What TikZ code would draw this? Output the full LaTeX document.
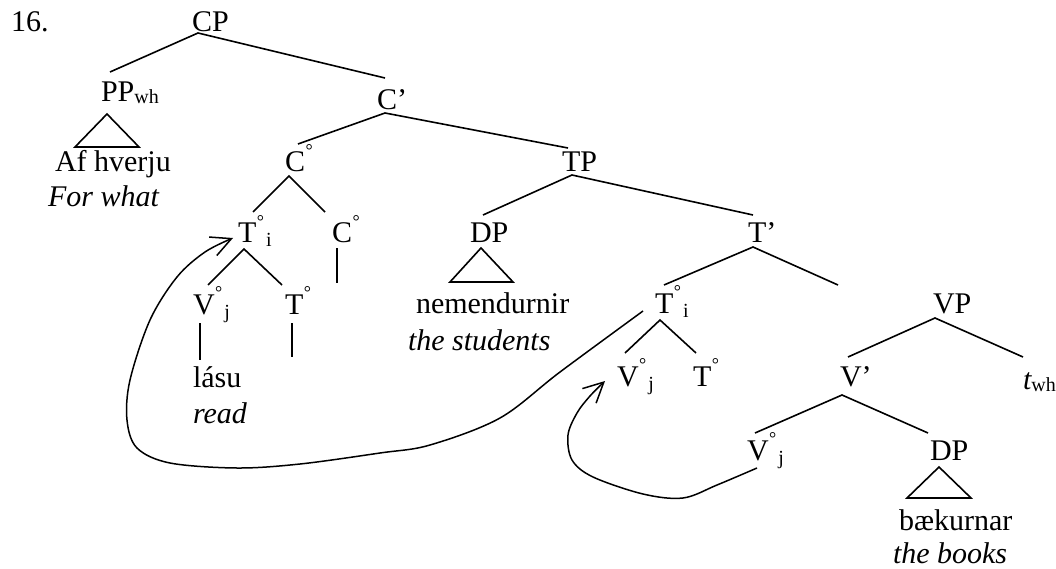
\documentclass[tikz,border=0pt]{standalone}
\usepackage{fontspec}
\setmainfont{Liberation Serif}
\usetikzlibrary{arrows.meta}
\newcommand{\degsym}{\kern0.5pt\raisebox{15.5pt}{\fontsize{18}{18}\selectfont °}}
\newcommand{\subx}[1]{\kern2pt\raisebox{-4pt}{\fontsize{20}{20}\selectfont #1}}
\newcommand{\subw}[1]{\raisebox{-2pt}{\fontsize{20}{20}\selectfont #1}}
\begin{document}
\begin{tikzpicture}[x=1pt,y=-1pt,
  lab/.style={anchor=base west,inner sep=0pt,outer sep=0pt,font=\fontsize{30}{36}\selectfont},
  br/.style={line width=1.6pt},
  mv/.style={line width=1.5pt,-{Straight Barb[length=20pt,width=20pt,line width=1.5pt]}}]
\useasboundingbox (0,0) rectangle (1056,569);
% labels
\node[lab] (n16) at (11,32) {16.};
\node[lab] (CP) at (192,32) {CP};
\node[lab] (PP) at (101,102) {PP\subw{wh}};
\node[lab] (PPw) at (55,172) {Af hverju};
\node[lab] (PPg) at (48,207) {\itshape For what};
\node[lab] (Cb) at (377,110) {C’};
\node[lab] (C0) at (285,172) {C\degsym};
\node[lab] (Ti) at (238,243) {T\degsym\subx{i}};
\node[lab] (C1) at (332,243) {C\degsym};
\node[lab] (Vj) at (193,314) {V\degsym\subx{j}};
\node[lab] (T0) at (285,314) {T\degsym};
\node[lab] (lasu) at (193,387) {lásu};
\node[lab] (read) at (193,423) {\itshape read};
\node[lab] (TP) at (562,172) {TP};
\node[lab] (DP) at (470,243) {DP};
\node[lab] (nem) at (416,313) {nemendurnir};
\node[lab] (stu) at (408,350) {\itshape the students};
\node[lab] (Tb) at (748,243) {T’};
\node[lab] (Ti2) at (655,313) {T\degsym\subx{i}};
\node[lab] (Vj2) at (617,386) {V\degsym\subx{j}};
\node[lab] (T02) at (693,386) {T\degsym};
\node[lab] (VP) at (933,313) {VP};
\node[lab] (Vb) at (840,386) {V’};
\node[lab] (twh) at (1023,389) {\itshape t\upshape\subw{wh}};
\node[lab] (Vj3) at (747,460) {V\degsym\subx{j}};
\node[lab] (DP2) at (930,460) {DP};
\node[lab] (bak) at (899,530) {bækurnar};
\node[lab] (boo) at (893,563) {\itshape the books};
% attachment points
\coordinate (CPb) at (198,33);
\coordinate (PPt) at (110,72);
\coordinate (Cbt) at (385,78);
\coordinate (Cbb) at (385,113);
\coordinate (C0t) at (298,144);
\coordinate (TPt) at (568,148);
\coordinate (C0b) at (289,176);
\coordinate (Tit) at (253,212);
\coordinate (C1t) at (325,212);
\coordinate (C1b) at (337,248);
\coordinate (C1e) at (337,283);
\coordinate (Tib) at (244,249);
\coordinate (Vjt) at (208,285);
\coordinate (T0t) at (282,285);
\coordinate (Vjb) at (200,323);
\coordinate (lasut) at (200,360);
\coordinate (T0b) at (292,323);
\coordinate (T0e) at (292,357);
\coordinate (TPb) at (572,175);
\coordinate (DPt) at (483,215);
\coordinate (Tbt) at (753,215);
\coordinate (Tbb) at (753,247);
\coordinate (Ti2t) at (664,285);
\coordinate (Tbr) at (838,285);
\coordinate (Ti2b) at (660,320);
\coordinate (Vj2t) at (625,353);
\coordinate (T02t) at (696,353);
\coordinate (VPb) at (935,318);
\coordinate (Vbt) at (848,357);
\coordinate (twht) at (1023,357);
\coordinate (Vbb) at (842,395);
\coordinate (Vj3t) at (755,433);
\coordinate (DP2t) at (928,433);
% branches
\draw[br] (PPt) -- (CPb) -- (Cbt);
\draw[br] (C0t) -- (Cbb) -- (TPt);
\draw[br] (Tit) -- (C0b) -- (C1t);
\draw[br] (C1b) -- (C1e);
\draw[br] (Vjt) -- (Tib) -- (T0t);
\draw[br] (Vjb) -- (lasut);
\draw[br] (T0b) -- (T0e);
\draw[br] (DPt) -- (TPb) -- (Tbt);
\draw[br] (Ti2t) -- (Tbb) -- (Tbr);
\draw[br] (Vj2t) -- (Ti2b) -- (T02t);
\draw[br] (Vbt) -- (VPb) -- (twht);
\draw[br] (Vj3t) -- (Vbb) -- (DP2t);
% triangles
\draw[br] (107,114) -- (75,147) -- (139,147) -- cycle;
\draw[br] (481,248) -- (450,282) -- (513,282) -- cycle;
\draw[br] (939,467) -- (907,498) -- (971,498) -- cycle;
% movement arrows
\coordinate (m1s) at (643,311);
\coordinate (m1e) at (233,238);
\coordinate (m2s) at (757,468);
\coordinate (m2e) at (605,381);
\draw[mv] plot[smooth,tension=0.55] coordinates {(m1s) (560,372) (500,418) (430,445) (380,453) (300,464) (237,468) (170,463) (137,448) (127,420) (130,380) (150,320) (177,277) (205,252) (m1e)};
\draw[mv] plot[smooth,tension=0.55] coordinates {(m2s) (717,485) (683,498) (643,494) (593,477) (572,460) (568,435) (577,413) (590,396) (m2e)};
\end{tikzpicture}
\end{document}
